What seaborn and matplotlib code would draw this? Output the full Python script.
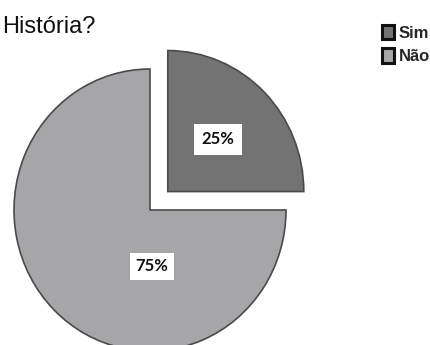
import matplotlib
matplotlib.use("Agg")
import matplotlib.pyplot as plt
from matplotlib.patches import Patch
import seaborn as sns

categories = ["Sim", "Não"]
values = [25, 75]
pct_labels = ["25%", "75%"]
colors = ["#737373", "#a6a6a8"]
title_text = "História?"

sns.set_theme(style="white")
plt.rcParams["font.family"] = ["Liberation Sans", "DejaVu Sans"]

W, H = 431, 345
fig = plt.figure(figsize=(W / 100, H / 100), dpi=100)
ax = fig.add_axes([0, 0, 1, 1])

wedges, _ = ax.pie(values, colors=colors, startangle=90, counterclock=False,
                   explode=[0.185, 0], radius=1,
                   wedgeprops=dict(edgecolor="#4a4a4a", linewidth=1.2))
ax.set_aspect("auto")
# pixel scale: ~136 px per unit horizontally, ~141 px vertically; center at (150, 210) px
sx, sy = 136, 141
cx, cy = 150, 210
ax.set_xlim(-cx / sx, (W - cx) / sx)
ax.set_ylim(-(H - cy) / sy, cy / sy)
ax.axis("off")

lab_font = dict(ha="center", va="center", fontsize=12, fontweight="bold",
                family=["Lato", "DejaVu Sans"], color="#111111")
ax.text(0.497, 0.50, pct_labels[0], bbox=dict(boxstyle="square,pad=0.45", fc="white", ec="none"), **lab_font)
ax.text(0.015, -0.40, pct_labels[1], bbox=dict(boxstyle="square,pad=0.35", fc="white", ec="none"), **lab_font)

fig.text(2 / W, 1 - 33 / H, title_text, ha="left", va="baseline", fontsize=17,
         color="#111111")

handles = [Patch(facecolor=c, edgecolor="#111111", linewidth=2.2) for c in colors]
fig.legend(handles, categories, loc="upper left", bbox_to_anchor=(382 / W, 1 - 25 / H),
           frameon=False, borderaxespad=0, borderpad=0, handlelength=0.72,
           handleheight=0.96, handletextpad=0.3, labelspacing=0.45,
           prop={"weight": "bold", "size": 12})

fig.savefig("out.png", dpi=100)
